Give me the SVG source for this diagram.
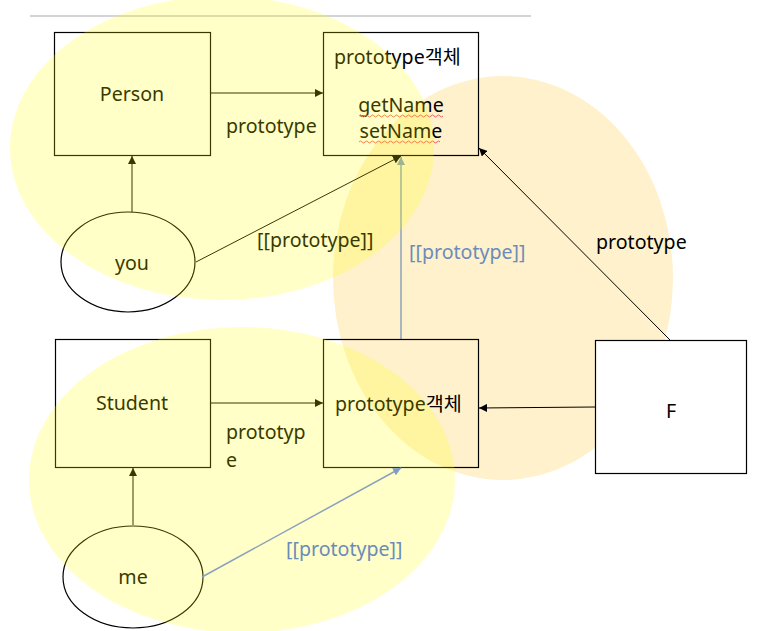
<svg xmlns="http://www.w3.org/2000/svg" width="769" height="631" viewBox="0 0 769 631">
<style>
.box{fill:none;stroke:#000;stroke-width:1.2}
.t{font-family:'Noto Sans','Noto Sans CJK KR',sans-serif;font-size:19.6px;fill:#000}
.c{text-anchor:middle}
.blue{fill:#6b8cba}
.ln{stroke:#000;stroke-width:1;fill:none}
.lb{stroke:#8aa2bd;stroke-width:1.5;fill:none}
.wavy{stroke:#f25c5c;stroke-width:1;fill:none}
.hl{fill:#ffff00;opacity:0.22}
</style>
<defs>
<marker id="ah" viewBox="0 0 10 10" refX="10" refY="5" markerWidth="8" markerHeight="8" markerUnits="userSpaceOnUse" orient="auto">
<path d="M0,0 L10,5 L0,10 z" fill="#000"/>
</marker>
<marker id="ahb" viewBox="0 0 10 10" refX="10" refY="5" markerWidth="8" markerHeight="8" markerUnits="userSpaceOnUse" orient="auto">
<path d="M0,0 L10,5 L0,10 z" fill="#7f9dbd"/>
</marker>
</defs>
<rect width="769" height="631" fill="#fff"/>
<line x1="30" y1="16" x2="531" y2="16" stroke="#d4d4d4" stroke-width="2"/>
<ellipse id="orange-area" cx="503" cy="278" rx="170" ry="202" fill="#fff1cc"/>
<g id="F">
<rect x="595.5" y="340.5" width="151" height="133" fill="#fff" stroke="#000" stroke-width="1.2"/>
<text class="t c" x="671" y="418">F</text>
</g>
<g id="connectors">
<line class="ln" x1="210" y1="93" x2="323" y2="93" marker-end="url(#ah)"/>
<text class="t" x="226" y="133">prototype</text>
<line class="ln" x1="132" y1="212" x2="132" y2="156" marker-end="url(#ah)"/>
<line class="ln" x1="196" y1="262" x2="401" y2="156" marker-end="url(#ah)"/>
<text class="t" x="257" y="247">[[prototype]]</text>
<line class="lb" x1="401" y1="339" x2="401" y2="157" marker-end="url(#ahb)"/>
<text class="t blue" x="409" y="259">[[prototype]]</text>
<line class="ln" x1="670" y1="340" x2="479" y2="148" marker-end="url(#ah)"/>
<text class="t" x="596" y="249">prototype</text>
<line class="ln" x1="210" y1="403" x2="323" y2="403" marker-end="url(#ah)"/>
<text class="t" x="226" y="439">prototyp</text>
<text class="t" x="226" y="466.5">e</text>
<line class="ln" x1="133" y1="525" x2="133" y2="468" marker-end="url(#ah)"/>
<line class="ln" x1="595" y1="407" x2="479" y2="408" marker-end="url(#ah)"/>
</g>
<g id="Person">
<rect class="box" x="54.5" y="32.5" width="156" height="123"/>
<text class="t c" x="132" y="101">Person</text>
</g>
<g id="proto1">
<rect class="box" x="323.5" y="32.5" width="155" height="123"/>
<text class="t" x="334" y="64">prototype객체</text>
<text class="t c" x="401" y="112">getName</text>
<text class="t c" x="401" y="138">setName</text>
<path class="wavy" d="M359,116 q1.5,-2 3,0 t3,0 t3,0 t3,0 t3,0 t3,0 t3,0 t3,0 t3,0 t3,0 t3,0 t3,0 t3,0 t3,0 t3,0 t3,0 t3,0 t3,0 t3,0 t3,0 t3,0 t3,0 t3,0 t3,0 t3,0 t3,0 t3,0 t3,0"/>
<path class="wavy" d="M359,142 q1.5,-2 3,0 t3,0 t3,0 t3,0 t3,0 t3,0 t3,0 t3,0 t3,0 t3,0 t3,0 t3,0 t3,0 t3,0 t3,0 t3,0 t3,0 t3,0 t3,0 t3,0 t3,0 t3,0 t3,0 t3,0 t3,0 t3,0 t3,0"/>
</g>
<g id="you">
<ellipse cx="128" cy="262" rx="67" ry="50" fill="none" stroke="#000" stroke-width="1.2"/>
<text class="t c" x="132" y="270">you</text>
</g>
<g id="Student">
<rect class="box" x="55.5" y="339.5" width="155" height="128"/>
<text class="t c" x="132" y="410">Student</text>
</g>
<g id="proto2">
<rect class="box" x="323.5" y="339.5" width="155" height="128"/>
<text class="t" x="335" y="411">prototype객체</text>
</g>
<g id="me">
<ellipse cx="133" cy="577" rx="70" ry="51" fill="none" stroke="#000" stroke-width="1.2"/>
<text class="t c" x="133" y="584">me</text>
</g>
<ellipse id="yellow-top" class="hl" cx="222" cy="148" rx="212" ry="152"/>
<ellipse id="yellow-bottom" class="hl" cx="242" cy="480" rx="213" ry="153"/>
<g id="connectors-blue">
<line class="lb" x1="202" y1="577" x2="401" y2="468" marker-end="url(#ahb)"/>
<text class="t blue" x="286" y="556">[[prototype]]</text>
</g>
</svg>
